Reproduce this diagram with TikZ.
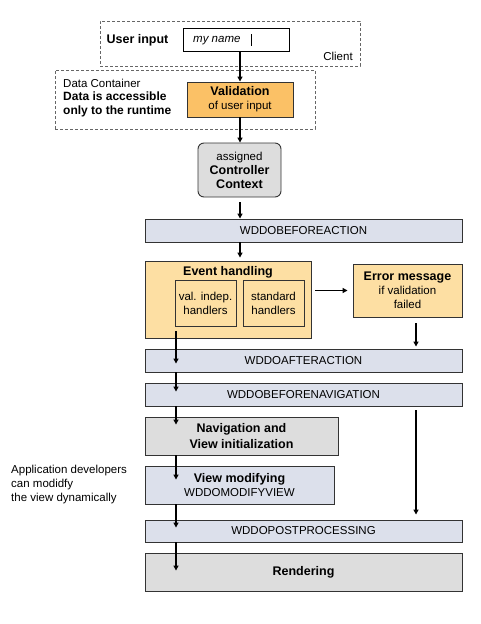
\documentclass[tikz,border=0pt]{standalone}
\usepackage{fontspec}
\setmainfont{Liberation Sans}
\usetikzlibrary{arrows.meta}
\definecolor{cOrange}{HTML}{FBC166}
\definecolor{cLight}{HTML}{FDDFA3}
\definecolor{cBlue}{HTML}{DCE0EB}
\definecolor{cGray}{HTML}{DDDDDD}
\definecolor{cBorder}{HTML}{333333}
\definecolor{cDash}{HTML}{666666}
\newcommand\rgf{\fontsize{11.5}{14}\selectfont}
\newcommand\bdf{\fontsize{12.5}{15.5}\selectfont\bfseries}
\tikzset{
  box/.style={draw=cBorder, line width=0.9pt, inner sep=0pt, align=center, font=\rgf},
  dbox/.style={draw=cDash, line width=0.9pt, dash pattern=on 3pt off 2pt, inner sep=0pt},
  lbl/.style={inner sep=0pt, font=\rgf},
  arr/.style={line width=1.2pt, -{Triangle[width=5pt,length=5pt]}},
}
\begin{document}
\begin{tikzpicture}[x=1pt,y=-1pt]
\useasboundingbox (0,0) rectangle (480,624);
% containers
\node[dbox, minimum width=260pt, minimum height=45pt] (client) at (230,43.5) {};
\node[dbox, minimum width=260pt, minimum height=59pt] (dc) at (185,99.5) {};
\node[lbl, font=\bdf] (ui) at (137.5,40.5) {User input};
\node[box, fill=white, draw=black, minimum width=106pt, minimum height=23pt] (field) at (236,39.5) {};
\node[lbl, anchor=west] (name) at (193,40.5) {\itshape my name};
\draw[line width=0.8pt] (251,34) coordinate (c1) -- (251,46) coordinate (c2);
\node[lbl] (cl) at (338,56.5) {Client};
\node[lbl, anchor=west] (dct) at (63,83.5) {Data Container};
\node[lbl, anchor=west, align=left, font=\fontsize{12}{13.5}\selectfont\bfseries] (acc) at (63,104.5) {Data is accessible\\only to the runtime};
% main flow
\node[box, fill=cOrange, minimum width=106pt, minimum height=35pt] (val) at (240,99.5) {{\bdf Validation}\\of user input};
\node[box, fill=cGray, rounded corners=6pt, minimum width=83pt, minimum height=54pt] (ctx) at (239.5,170) {assigned\\{\bdf Controller}\\{\bdf Context}};
\node[box, fill=cBlue, minimum width=317pt, minimum height=23pt] (ba) at (303.5,230.5) {WDDOBEFOREACTION};
\node[box, fill=cLight, minimum width=166pt, minimum height=77pt] (eh) at (228,299.5) {};
\node[lbl, font=\bdf] (eht) at (228,272) {Event handling};
\node[box, fill=cLight, minimum width=61pt, minimum height=46pt] (vi) at (205.5,303) {val. indep.\\handlers};
\node[box, fill=cLight, minimum width=61pt, minimum height=46pt] (sh) at (273.5,303) {standard\\handlers};
\node[box, fill=cLight, minimum width=109pt, minimum height=53pt] (err) at (407.5,290.5) {{\bdf Error message}\\if validation\\failed};
\node[box, fill=cBlue, minimum width=317pt, minimum height=23pt] (aa) at (303.5,360.5) {WDDOAFTERACTION};
\node[box, fill=cBlue, minimum width=317pt, minimum height=23pt] (bn) at (303.5,394.5) {WDDOBEFORENAVIGATION};
\node[box, fill=cGray, minimum width=193pt, minimum height=38pt, font=\bdf] (nav) at (241.5,436) {Navigation and\\View initialization};
\node[box, fill=cBlue, minimum width=189pt, minimum height=38pt] (vm) at (239.5,485) {{\bdf View modifying}\\WDDOMODIFYVIEW};
\node[box, fill=cBlue, minimum width=317pt, minimum height=22pt] (pp) at (303.5,531) {WDDOPOSTPROCESSING};
\node[box, fill=cGray, minimum width=317pt, minimum height=38pt, font=\bdf] (rd) at (303.5,572) {Rendering};
\node[lbl, anchor=west, align=left] (note) at (11,484.5) {Application developers\\can modidfy\\the view dynamically};
% connectors
\coordinate (L) at (176,0);
\coordinate (R) at (416,0);
\coordinate (C) at (240,0);
\draw[arr] (C |- field.south) -- (C |- val.north);
\draw[arr] (C |- val.south) -- (C |- ctx.north);
\draw[arr] ([yshift=-5pt]C |- ctx.south) -- (C |- ba.north);
\draw[arr] (C |- ba.south) -- ([yshift=3pt]C |- eh.north);
\draw[arr] ([xshift=4pt]eh.east |- err.west) -- ([xshift=-5pt]err.west);
\draw[arr] ([yshift=-6pt]R |- err.south) -- ([yshift=2pt]R |- aa.north);
\draw[arr] ([yshift=7pt]L |- eh.south) -- ([yshift=-15pt]L |- aa.north);
\draw[arr] (L |- aa.south) -- ([yshift=-9pt]L |- bn.north);
\draw[arr] (L |- bn.south) -- ([yshift=-8pt]L |- nav.north);
\draw[arr] (L |- nav.south) -- ([yshift=-14pt]L |- vm.north);
\draw[arr] (L |- vm.south) -- ([yshift=-8pt]L |- pp.north);
\draw[arr] (L |- pp.south) -- ([yshift=-18pt]L |- rd.north);
\draw[arr] ([yshift=-4pt]R |- bn.south) -- ([yshift=5pt]R |- pp.north);
\end{tikzpicture}
\end{document}
